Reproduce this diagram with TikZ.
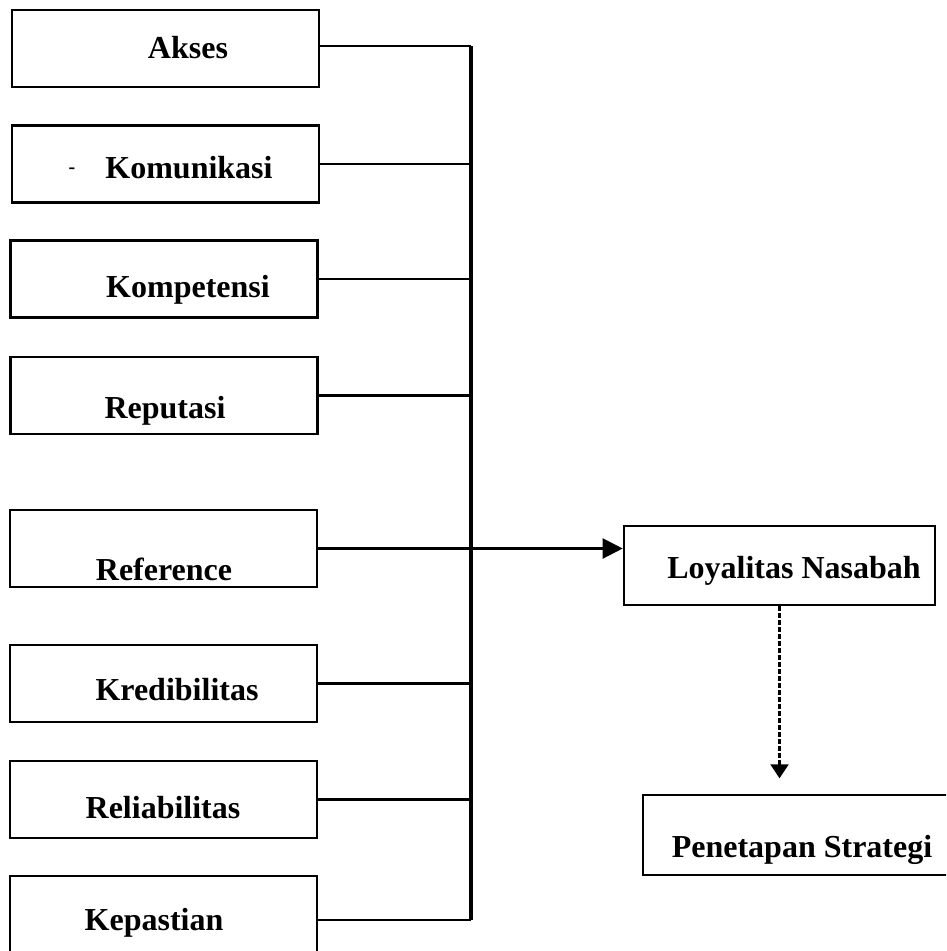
\documentclass[tikz,border=0pt]{standalone}
\usepackage{fontspec}
\setmainfont{Liberation Serif}
\usetikzlibrary{arrows.meta}
\begin{document}
\begin{tikzpicture}[x=1pt, y=-1pt,
       kotak/.style={draw, line width=2.6pt, minimum width=307, minimum height=77, inner sep=0pt},
       teks/.style={anchor=base, inner sep=0pt, font=\fontsize{32}{36}\selectfont\bfseries},
       garis/.style={line width=2.2pt},
       bus/.style={line width=3.6pt}]
\clip (0,0) rectangle (946,951);
% kotak faktor
\node[kotak] (akses)        at (165.5,48.5) {};
\node[kotak] (komunikasi)   at (165.5,164) {};
\node[kotak] (kompetensi)   at (164,279) {};
\node[kotak] (reputasi)     at (164,395.5) {};
\node[kotak] (reference)    at (163.5,548.5) {};
\node[kotak] (kredibilitas) at (163.5,683.5) {};
\node[kotak] (reliabilitas) at (163.5,799.5) {};
\node[kotak, minimum height=88] (kepastian) at (163.5,920) {};
\node[kotak, minimum width=311, minimum height=79] (loyalitas) at (779.5,565.5) {};
\node[kotak, minimum width=311, minimum height=80] (penetapan) at (798.5,835) {};
% teks
\node[teks] (t-akses)        at (188,58)  {Akses};
\node[teks] (t-strip)        at (72,173)  {\fontsize{20}{20}\selectfont -};
\node[teks] (t-komunikasi)   at (189,178) {Komunikasi};
\node[teks] (t-kompetensi)   at (188,297) {Kompetensi};
\node[teks] (t-reputasi)     at (165,418) {Reputasi};
\node[teks] (t-reference)    at (164,580) {Reference};
\node[teks] (t-kredibilitas) at (177,700) {Kredibilitas};
\node[teks] (t-reliabilitas) at (163,818) {Reliabilitas};
\node[teks] (t-kepastian)    at (154,930) {Kepastian};
\node[teks] (t-loyalitas)    at (794,578) {Loyalitas Nasabah};
\node[teks] (t-penetapan)    at (802,857) {Penetapan Strategi};
% penghubung
\coordinate (bus-atas)  at (471,46);
\coordinate (bus-bawah) at (kepastian.east -| bus-atas);
\draw[bus] (bus-atas) -- (bus-bawah);
\draw[garis] (akses.east |- bus-atas) -- (bus-atas);
\foreach \n in {komunikasi,kompetensi,reputasi,kredibilitas,reliabilitas,kepastian}
    \draw[garis] (\n.east) -- (\n.east -| bus-atas);
\draw[garis, -{Triangle[length=20pt, width=20pt]}] (reference.east) -- (reference.east -| loyalitas.west);
\draw[garis, dash pattern=on 5pt off 2pt, -{Triangle[length=14pt, width=18pt]}]
    (loyalitas.south) -- ++(0,172);
\end{tikzpicture}
\end{document}
